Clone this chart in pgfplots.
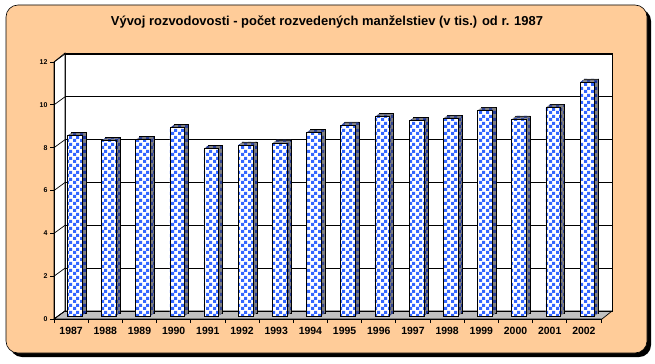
\documentclass[border=0pt]{standalone}
\usepackage{pgfplots}
\usepackage{pgfplotstable}
\pgfplotsset{compat=1.18}
\usepackage{fontspec}
\setmainfont{Liberation Sans}
\usetikzlibrary{patterns}
\definecolor{peach}{HTML}{FFCC99}
\definecolor{cblue}{HTML}{3366FF}
\definecolor{navyc}{HTML}{1A3399}
\definecolor{floorgray}{HTML}{C0C0C0}
\definecolor{sidegray}{HTML}{808080}
\pgfdeclarepatternformonly{chk}{\pgfqpoint{0pt}{0pt}}{\pgfqpoint{6.6bp}{6.6bp}}{\pgfqpoint{6.6bp}{6.6bp}}{%
  \pgfpathrectangle{\pgfqpoint{0pt}{0pt}}{\pgfqpoint{3.3bp}{3.3bp}}%
  \pgfpathrectangle{\pgfqpoint{3.3bp}{3.3bp}}{\pgfqpoint{3.3bp}{3.3bp}}%
  \pgfusepath{fill}}
\pgfplotstableread{
x year v
1 1987 8.42
2 1988 8.19
3 1989 8.23
4 1990 8.80
5 1991 7.83
6 1992 7.99
7 1993 8.08
8 1994 8.57
9 1995 8.92
10 1996 9.32
11 1997 9.12
12 1998 9.24
13 1999 9.61
14 2000 9.20
15 2001 9.75
16 2002 10.93
}\data
\begin{document}
\begin{tikzpicture}[x=1bp,y=1bp]
\useasboundingbox (0,0) rectangle (655,363);
% frame with shadow
\fill[black, rounded corners=12bp] (10,6) rectangle (651,354);
\filldraw[fill=peach, draw=black, line width=0.6bp, rounded corners=12bp] (6,10) rectangle (647,358);
% title
\node[font=\bfseries\fontsize{13}{15}\selectfont] at (327,341) {Vývoj rozvodovosti - počet rozvedených manželstiev (v tis.) od r. 1987};
% walls and floor
\filldraw[fill=white, draw=black, line width=0.7bp] (65,52) rectangle (612,310);
\filldraw[fill=white, draw=black, line width=0.7bp] (54,44) -- (65,52) -- (65,310) -- (54,301) -- cycle;
\filldraw[fill=floorgray, draw=black, line width=0.7bp] (54,44) -- (602,44) -- (612,52) -- (65,52) -- cycle;
\begin{axis}[
  at={(54bp,44bp)}, anchor=south west,
  scale only axis, width=547bp, height=257bp,
  xmin=0.5, xmax=16.5, ymin=0, ymax=12,
  axis x line*=bottom, axis y line*=left,
  axis line style={black, line width=0.8bp},
  xtick={1,...,16},
  xticklabels={1987,1988,1989,1990,1991,1992,1993,1994,1995,1996,1997,1998,1999,2000,2001,2002},
  major x tick style={draw=none},
  minor xtick={0.5,1.5,...,16.5},
  minor x tick style={black, line width=0.8bp},
  ytick={0,2,...,12},
  major y tick style={black, line width=0.8bp},
  tick align=outside,
  major tick length=4bp, minor tick length=4bp,
  ymajorgrids,
  major grid style={black, line width=0.7bp, xshift=11bp, yshift=8bp},
  /pgf/number format/assume math mode=true,
  xticklabel style={font=\bfseries\fontsize{10.5}{12}\selectfont, yshift=-1bp},
  yticklabel style={font=\bfseries\fontsize{7}{8}\selectfont, xshift=1bp},
  clip=false,
]
\pgfplotsinvokeforeach{0,2,4,6,8,10,12}{\draw[black, line width=0.7bp] (axis cs:0.5,#1) -- ++(11bp,8bp);}
% extrusion (depth) of the bars
\addplot[ybar, bar shift=0pt, bar width=14.7bp, xshift=7.5bp, yshift=6bp, draw=black, line width=0.6bp, pattern=chk, pattern color=navyc, preaction={fill=sidegray}] table[x=x,y=v]{\data};
\addplot[ybar, bar shift=0pt, bar width=14.7bp, xshift=6.5bp, yshift=5.25bp, draw=none, pattern=chk, pattern color=navyc, preaction={fill=sidegray}] table[x=x,y=v]{\data};
\addplot[ybar, bar shift=0pt, bar width=14.7bp, xshift=5.5bp, yshift=4.5bp, draw=none, pattern=chk, pattern color=navyc, preaction={fill=sidegray}] table[x=x,y=v]{\data};
\addplot[ybar, bar shift=0pt, bar width=14.7bp, xshift=4.5bp, yshift=3.75bp, draw=none, pattern=chk, pattern color=navyc, preaction={fill=sidegray}] table[x=x,y=v]{\data};
% front faces
\addplot[ybar, bar shift=0pt, bar width=14.7bp, xshift=3.5bp, yshift=3bp, draw=black, line width=0.6bp, pattern=chk, pattern color=cblue, preaction={fill=white}] table[x=x,y=v]{\data};
\end{axis}
\end{tikzpicture}
\end{document}
